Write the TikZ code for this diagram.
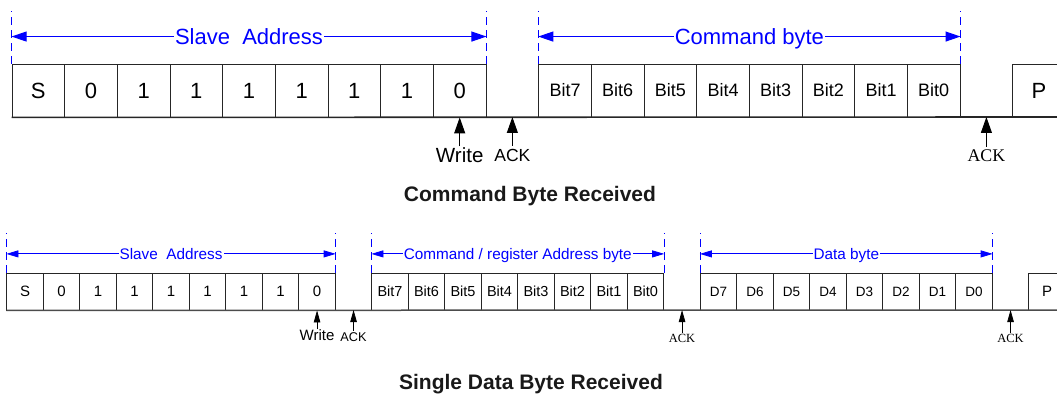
\documentclass[tikz,border=0pt]{standalone}
\usepackage{fontspec}
\setmainfont{Liberation Sans}
\newfontfamily\tnr{Liberation Serif}
\usetikzlibrary{arrows.meta,positioning,calc}

\tikzset{
  cellA/.style={draw=black!85, line width=0.9pt, inner sep=0pt, minimum width=52.67pt, minimum height=53pt, font=\fontsize{22}{24}\selectfont},
  cellB/.style={draw=black!85, line width=0.8pt, inner sep=0pt, minimum width=36.5pt, minimum height=36.7pt, font=\fontsize{15}{17}\selectfont},
  bitA/.style={font=\fontsize{18}{20}\selectfont},
  bitB/.style={font=\fontsize{14.5}{16}\selectfont},
  datB/.style={font=\fontsize{13.5}{15}\selectfont},
  baseA/.style={draw=black!85, line width=1.6pt},
  baseB/.style={draw=black!70, line width=1.5pt},
  guide/.style={draw=blue, line width=0.8pt, dash pattern=on 8pt off 5pt},
  dimA/.style={draw=blue, line width=1pt, {Triangle[length=15pt,width=10pt]}-{Triangle[length=15pt,width=10pt]}},
  dimB/.style={draw=blue, line width=0.8pt, {Triangle[length=12pt,width=7pt]}-{Triangle[length=12pt,width=7pt]}},
  dimlblA/.style={fill=white, text=blue, inner sep=1pt, text depth=0pt, font=\fontsize{22}{24}\selectfont},
  dimlblB/.style={fill=white, text=blue, inner sep=1pt, text depth=0pt, font=\fontsize{15.3}{17}\selectfont},
  ptrA/.style={draw=black, line width=1pt, -{Triangle[length=16pt,width=11pt]}},
  ptrB/.style={draw=black, line width=0.8pt, -{Triangle[length=12pt,width=6.5pt]}},
  title/.style={font=\bfseries\fontsize{21}{24}\selectfont, text=black!90}
}

\begin{document}
\begin{tikzpicture}[x=1pt,y=-1pt]
    \useasboundingbox (0,0) rectangle (1057,395);

    % Command byte frame (top)
    \foreach \b [count=\i from 0] in {S,0,1,1,1,1,1,1,0}
      \node[cellA] (a\i) at ({12+(\i+0.5)*52.67},90.5) {\b};
    \foreach \b [count=\i from 10] in {Bit7,Bit6,Bit5,Bit4,Bit3,Bit2,Bit1,Bit0}
      \node[cellA, bitA] (a\i) at ({12+(\i+0.5)*52.67},90.5) {\b};
    \node[cellA] (a19) at ({12+19.5*52.67},90.5) {P};
    \coordinate (a9) at ({12+9.5*52.67},117);
    \coordinate (a18) at ({12+18.5*52.67},117);
    \coordinate (aend) at (1057,117);
    \draw[baseA] (a0.south west) -- (aend);

    \foreach \n in {a0.north west,a8.north east,a10.north west,a17.north east}
      \draw[guide] (\n) -- ++(0,-53);
    \path (a0.north west) ++(0,-27) coordinate (sal)
          (a8.north east) ++(0,-27) coordinate (sar)
          (a10.north west) ++(0,-27) coordinate (cbl)
          (a17.north east) ++(0,-27) coordinate (cbr);
    \draw[dimA] (sal) -- node[dimlblA] {Slave\ \ Address} (sar);
    \draw[dimA] (cbl) -- node[dimlblA] {Command byte} (cbr);

    \node[anchor=north, inner sep=0.5pt, font=\fontsize{20.5}{22}\selectfont] (wA) at ({12+8.5*52.67},146.5) {Write};
    \node[anchor=north, inner sep=3pt, font=\fontsize{17.5}{19}\selectfont] (kA1) at ({12+9.5*52.67},146) {ACK};
    \node[anchor=north, inner sep=3pt, font=\tnr\fontsize{17.8}{19}\selectfont] (kA2) at ({12+18.5*52.67},147) {ACK};
    \draw[ptrA] (wA) -- (a8.south);
    \draw[ptrA] (kA1) -- (a9);
    \draw[ptrA] (kA2) -- (a18);

    \node[title] (ttA) at (530,196) {Command Byte Received};

    % Single data byte frame (bottom)
    \foreach \b [count=\i from 0] in {S,0,1,1,1,1,1,1,0}
      \node[cellB] (b\i) at ({6.8+(\i+0.5)*36.5},291.65) {\b};
    \foreach \b [count=\i from 10] in {Bit7,Bit6,Bit5,Bit4,Bit3,Bit2,Bit1,Bit0}
      \node[cellB, bitB] (b\i) at ({6.8+(\i+0.5)*36.5},291.65) {\b};
    \foreach \b [count=\i from 19] in {D7,D6,D5,D4,D3,D2,D1,D0}
      \node[cellB, datB] (b\i) at ({6.8+(\i+0.5)*36.5},291.65) {\b};
    \node[cellB] (b28) at ({6.8+28.5*36.5},291.65) {P};
    \coordinate (b9) at ({6.8+9.5*36.5},310);
    \coordinate (b18) at ({6.8+18.5*36.5},310);
    \coordinate (b27) at ({6.8+27.5*36.5},310);
    \coordinate (bend) at (1057,310);
    \draw[baseB] (b0.south west) -- (bend);

    \foreach \n in {b0.north west,b8.north east,b10.north west,b17.north east,b19.north west,b26.north east}
      \draw[guide] (\n) -- ++(0,-39.5);
    \path (b0.north west) ++(0,-19) coordinate (sbl)
          (b8.north east) ++(0,-19) coordinate (sbr)
          (b10.north west) ++(0,-19) coordinate (rbl)
          (b17.north east) ++(0,-19) coordinate (rbr)
          (b19.north west) ++(0,-19) coordinate (dbl)
          (b26.north east) ++(0,-19) coordinate (dbr);
    \draw[dimB] (sbl) -- node[dimlblB] {Slave\ \ Address} (sbr);
    \draw[dimB] (rbl) -- node[dimlblB] {Command / register Address byte} (rbr);
    \draw[dimB] (dbl) -- node[dimlblB] {Data byte} (dbr);

    \node[anchor=north, inner sep=0pt, font=\fontsize{15}{16}\selectfont] (wB) at ({6.8+8.5*36.5},329.3) {Write};
    \node[anchor=north, inner sep=1.5pt, font=\fontsize{12.7}{14}\selectfont] (kB1) at ({6.8+9.5*36.5},330.5) {ACK};
    \node[anchor=north, inner sep=2pt, font=\tnr\fontsize{12.5}{15}\selectfont] (kB2) at ({6.8+18.5*36.5},332.5) {ACK};
    \node[anchor=north, inner sep=2pt, font=\tnr\fontsize{12.5}{15}\selectfont] (kB3) at ({6.8+27.5*36.5},332.5) {ACK};
    \draw[ptrB] (wB) -- (b8.south);
    \draw[ptrB] (kB1) -- (b9);
    \draw[ptrB] (kB2) -- (b18);
    \draw[ptrB] (kB3) -- (b27);

    \node[title] (ttB) at (531,384) {Single Data Byte Received};
\end{tikzpicture}
\end{document}
